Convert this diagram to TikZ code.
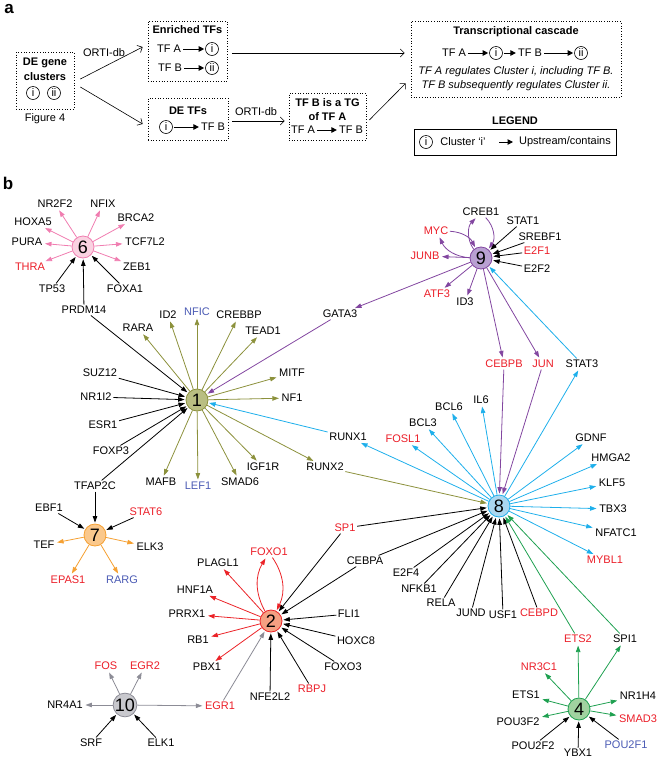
\documentclass[tikz,border=0pt]{standalone}
\usepackage{fontspec}
\setmainfont{Liberation Sans}
\usetikzlibrary{arrows.meta,calc}
\definecolor{tfred}{HTML}{EB1E28}
\definecolor{tfblue}{HTML}{4A5AB4}
\definecolor{cpink}{HTML}{F07DB0}
\definecolor{cpinkf}{HTML}{FAD2E1}
\definecolor{colive}{HTML}{8C913C}
\definecolor{colivef}{HTML}{B9BE82}
\definecolor{corange}{HTML}{F5A032}
\definecolor{corangef}{HTML}{FAC88C}
\definecolor{cpurple}{HTML}{8246A0}
\definecolor{cpurplef}{HTML}{B9A0D2}
\definecolor{ccyan}{HTML}{1EAFEB}
\definecolor{ccyanf}{HTML}{AAD7F0}
\definecolor{cred}{HTML}{EB2328}
\definecolor{credf}{HTML}{F5A082}
\definecolor{cgray}{HTML}{8C8C96}
\definecolor{cgrayf}{HTML}{C8C8CD}
\definecolor{cgreen}{HTML}{1EA050}
\definecolor{cgreenf}{HTML}{A0D2A0}
\tikzset{
  txt/.style={font=\fontsize{11}{13}\selectfont, inner sep=1pt},
  btxt/.style={font=\fontsize{11}{13}\selectfont\bfseries, inner sep=1pt},
  itxt/.style={font=\fontsize{11}{13}\selectfont\itshape, inner sep=1pt},
  abox/.style={draw, dotted, line width=0.7pt},
  rn/.style={circle, draw, line width=0.6pt, minimum size=13pt, inner sep=0pt, font=\fontsize{11}{13}\selectfont},
  flow/.style={-{Straight Barb[length=4pt,width=8pt]}, line width=0.6pt},
  tip/.style={-{Triangle[length=5.5pt,width=5.5pt]}, line width=1pt, shorten >=1pt, shorten <=1pt},
  gene/.style={font=\fontsize{11}{13}\selectfont, inner sep=1.5pt},
  rg/.style={gene, text=tfred},
  bg/.style={gene, text=tfblue},
  clus/.style={circle, draw=#1, fill=#1f, line width=0.8pt, minimum size=22pt, inner sep=0pt, font=\fontsize{18}{20}\selectfont},
  reg/.style={draw=#1, line width=0.8pt, -{Triangle[length=6.5pt,width=4.5pt]}, shorten >=1pt}
}

\begin{document}
\begin{tikzpicture}[x=1pt,y=-1pt]
		%%%%% START %%%%%
		\useasboundingbox (0,0) rectangle (660,761);
		
		% panel a
		\node[font=\fontsize{17}{19}\selectfont\bfseries] at (9,9) {a};
		
		\node[abox, minimum width=58pt, minimum height=57pt] (deg) at (45,80.5) {};
		\node[btxt] at (45,63) {DE gene};
		\node[btxt] at (45,77) {clusters};
		\node[rn] (dgi) at (33,93) {i};
		\node[rn] (dgii) at (54,93) {ii};
		\node[txt] at (45,119) {Figure 4};
		
		\node[abox, minimum width=79pt, minimum height=60pt] (enr) at (187.5,51) {};
		\node[btxt] at (187.5,30) {Enriched TFs};
		\node[txt] (enA) at (169,49) {TF A};
		\node[rn] (enI) at (212,49) {i};
		\node[txt] (enB) at (170,68) {TF B};
		\node[rn] (enII) at (212,68) {ii};
		\draw[tip] (enA) -- (enI);
		\draw[tip] (enB) -- (enII);
		
		\node[abox, minimum width=80pt, minimum height=42pt] (det) at (188,119) {};
		\node[btxt] at (188,111) {DE TFs};
		\node[rn] (deI) at (166,127) {i};
		\node[txt] (deB) at (213,127) {TF B};
		\draw[tip] (deI) -- (deB);
		
		\node[abox, minimum width=77pt, minimum height=47pt] (tg) at (327.5,116.5) {};
		\node[btxt] at (327.5,103) {TF B is a TG};
		\node[btxt] at (327.5,117) {of TF A};
		\node[txt] (tgA) at (303,130) {TF A};
		\node[txt] (tgB) at (351,130) {TF B};
		\draw[tip] (tgA) -- (tgB);
		
		\node[abox, minimum width=210pt, minimum height=76pt] (cas) at (516,59) {};
		\node[btxt] at (516,32) {Transcriptional cascade};
		\node[txt] (caA) at (454,53) {TF A};
		\node[rn] (caI) at (496,53) {i};
		\node[txt] (caB) at (530,53) {TF B};
		\node[rn] (caII) at (581,53) {ii};
		\draw[tip] (caA) -- (caI);
		\draw[tip] (caI) -- (caB);
		\draw[tip] (caB) -- (caII);
		\node[itxt] at (516,72) {TF A regulates Cluster i, including TF B.};
		\node[itxt] at (516,86) {TF B subsequently regulates Cluster ii.};
		
		\node[txt] (orti1) at (104,53) {ORTI-db};
		\node[txt] (orti2) at (256,112) {ORTI-db};
		\draw[flow] ([shift={(6,-1.5)}]deg.east) -- ([shift={(-5,-4)}]enr.west);
		\draw[flow] ([shift={(6,6.5)}]deg.east) -- ([shift={(-5,5)}]det.west);
		\draw[flow] ([shift={(4,2)}]det.east) -- ([shift={(-4,4.5)}]tg.west);
		\draw[flow] ([shift={(4.5,2)}]enr.east) -- ([shift={(-6,-6)}]cas.west);
		\draw[flow] ([shift={(3,3.5)}]tg.east) -- ([shift={(-5,-14)}]cas.south west);
		
		\node[btxt] at (515,121) {LEGEND};
		\node[draw, line width=0.7pt, minimum width=202pt, minimum height=26pt] (leg) at (515,142) {};
		\node[rn] (lgI) at (426,142) {i};
		\node[txt] at (463,142) {Cluster ‘i’};
		\coordinate (lgS) at (498,142);
		\coordinate (lgT) at (514,142);
		\draw[tip] (lgS) -- (lgT);
		\node[txt] at (565,142) {Upstream/contains};
		
		% panel b
		\node[font=\fontsize{17}{19}\selectfont\bfseries] at (8,183) {b};
		
		% cluster 6
		\node[clus=cpink] (c6) at (83,247) {6};
		\node[gene] (NR2F2) at (55,204) {NR2F2};
		\node[gene] (NFIX) at (103,204) {NFIX};
		\node[gene] (BRCA2) at (136,218) {BRCA2};
		\node[gene] (HOXA5) at (33,222) {HOXA5};
		\node[gene] (TCF7L2) at (145,242) {TCF7L2};
		\node[gene] (PURA) at (27,242) {PURA};
		\node[gene] (ZEB1) at (137,267) {ZEB1};
		\node[rg] (THRA) at (30,267) {THRA};
		\node[gene] (TP53) at (52,289) {TP53};
		\node[gene] (FOXA1) at (125,289) {FOXA1};
		\node[gene] (PRDM14) at (84,310) {PRDM14};
		\draw[reg=cpink] (c6) -- (NR2F2);
		\draw[reg=cpink] (c6) -- (NFIX);
		\draw[reg=cpink] (c6) -- (BRCA2);
		\draw[reg=cpink] (c6) -- (HOXA5);
		\draw[reg=cpink] (c6) -- (TCF7L2);
		\draw[reg=cpink] (c6) -- (PURA);
		\draw[reg=cpink] (c6) -- (ZEB1);
		\draw[reg=cpink] (c6) -- (THRA);
		\draw[reg=black] (TP53) -- (c6);
		\draw[reg=black] (FOXA1) -- (c6);
		\draw[reg=black] (PRDM14) -- (c6);
		
		% cluster 1
		\node[clus=colive] (c1) at (197,400) {1};
		\node[gene] (RARA) at (138,328) {RARA};
		\node[gene] (ID2) at (168,315) {ID2};
		\node[bg] (NFIC) at (197,312) {NFIC};
		\node[gene] (CREBBP) at (239,315) {CREBBP};
		\node[gene] (TEAD1) at (263,331) {TEAD1};
		\node[gene] (MITF) at (292,373) {MITF};
		\node[gene] (NF1) at (292,398) {NF1};
		\node[gene] (RUNX2) at (325,467) {RUNX2};
		\node[gene] (IGF1R) at (263,467) {IGF1R};
		\node[gene] (SMAD6) at (240,482) {SMAD6};
		\node[bg] (LEF1) at (198,486) {LEF1};
		\node[gene] (MAFB) at (161,482) {MAFB};
		\node[gene] (SUZ12) at (100,373) {SUZ12};
		\node[gene] (NR1I2) at (96,397) {NR1I2};
		\node[gene] (ESR1) at (103,425) {ESR1};
		\node[gene] (FOXP3) at (111,451) {FOXP3};
		\node[gene] (TFAP2C) at (95,486) {TFAP2C};
		\draw[reg=colive] (c1) -- (RARA);
		\draw[reg=colive] (c1) -- (ID2);
		\draw[reg=colive] (c1) -- (NFIC);
		\draw[reg=colive] (c1) -- (CREBBP);
		\draw[reg=colive] (c1) -- (TEAD1);
		\draw[reg=colive] (c1) -- (MITF);
		\draw[reg=colive] (c1) -- (NF1);
		\draw[reg=colive] (c1) -- (RUNX2);
		\draw[reg=colive] (c1) -- (IGF1R);
		\draw[reg=colive] (c1) -- (SMAD6);
		\draw[reg=colive] (c1) -- (LEF1);
		\draw[reg=colive] (c1) -- (MAFB);
		\draw[reg=black] (PRDM14) -- (c1);
		\draw[reg=black] (SUZ12) -- (c1);
		\draw[reg=black] (NR1I2) -- (c1);
		\draw[reg=black] (ESR1) -- (c1);
		\draw[reg=black] (FOXP3) -- (c1);
		\draw[reg=black] (TFAP2C) -- (c1);
		
		% cluster 7
		\node[clus=corange] (c7) at (95,535) {7};
		\node[gene] (EBF1) at (49,508) {EBF1};
		\node[rg] (STAT6) at (146,512) {STAT6};
		\node[gene] (TEF) at (44,545) {TEF};
		\node[gene] (ELK3) at (150,547) {ELK3};
		\node[rg] (EPAS1) at (68,580) {EPAS1};
		\node[bg] (RARG) at (122,580) {RARG};
		\draw[reg=black] (TFAP2C) -- (c7);
		\draw[reg=black] (EBF1) -- (c7);
		\draw[reg=black] (STAT6) -- (c7);
		\draw[reg=corange] (c7) -- (TEF);
		\draw[reg=corange] (c7) -- (ELK3);
		\draw[reg=corange] (c7) -- (EPAS1);
		\draw[reg=corange] (c7) -- (RARG);
		
		% cluster 9
		\node[clus=cpurple] (c9) at (481,258) {9};
		\node[gene] (CREB1) at (481,212) {CREB1};
		\node[gene] (STAT1) at (523,221) {STAT1};
		\node[gene] (SREBF1) at (540,237) {SREBF1};
		\node[rg] (E2F1) at (537,251) {E2F1};
		\node[gene] (E2F2) at (537,269) {E2F2};
		\node[rg] (MYC) at (436,231) {MYC};
		\node[rg] (JUNB) at (425,256) {JUNB};
		\node[rg] (ATF3) at (437,294) {ATF3};
		\node[gene] (ID3) at (465,302) {ID3};
		\node[gene] (GATA3) at (340,314) {GATA3};
		\node[rg] (CEBPB) at (504,364) {CEBPB};
		\node[rg] (JUN) at (543,364) {JUN};
		\node[gene] (STAT3) at (582,364) {STAT3};
		\draw[reg=cpurple] (c9) to[bend left=40] (CREB1);
		\draw[reg=cpurple] (CREB1) to[bend left=40] (c9);
		\draw[reg=cpurple] (c9) to[bend left=30] (MYC);
		\draw[reg=cpurple] (MYC) to[bend left=30] (c9);
		\draw[reg=cpurple] (c9) -- (JUNB);
		\draw[reg=cpurple] (c9) -- (ATF3);
		\draw[reg=cpurple] (c9) -- (ID3);
		\draw[reg=cpurple] (c9) -- (GATA3);
		\draw[reg=cpurple] (c9) -- (CEBPB);
		\draw[reg=cpurple] (c9) -- (JUN);
		\draw[reg=black] (STAT1) -- (c9);
		\draw[reg=black] (SREBF1) -- (c9);
		\draw[reg=black] (E2F1) -- (c9);
		\draw[reg=black] (E2F2) -- (c9);
		\draw[reg=cpurple] (GATA3) -- (c1);
		
		% cluster 8
		\node[clus=ccyan] (c8) at (499,506) {8};
		\node[gene] (RUNX1) at (348,437) {RUNX1};
		\node[rg] (FOSL1) at (403,439) {FOSL1};
		\node[gene] (BCL3) at (423,423) {BCL3};
		\node[gene] (BCL6) at (449,407) {BCL6};
		\node[gene] (IL6) at (481,400) {IL6};
		\node[gene] (GDNF) at (591,438) {GDNF};
		\node[gene] (HMGA2) at (611,458) {HMGA2};
		\node[gene] (KLF5) at (612,483) {KLF5};
		\node[gene] (TBX3) at (613,509) {TBX3};
		\node[gene] (NFATC1) at (616,533) {NFATC1};
		\node[rg] (MYBL1) at (605,560) {MYBL1};
		\node[rg] (SP1) at (345,528) {SP1};
		\node[gene] (CEBPA) at (365,561) {CEBPA};
		\node[gene] (E2F4) at (406,573) {E2F4};
		\node[gene] (NFKB1) at (419,589) {NFKB1};
		\node[gene] (RELA) at (441,603) {RELA};
		\node[gene] (JUND) at (471,613) {JUND};
		\node[gene] (USF1) at (503,615) {USF1};
		\node[rg] (CEBPD) at (539,613) {CEBPD};
		\node[rg] (ETS2) at (578,639) {ETS2};
		\node[gene] (SPI1) at (625,639) {SPI1};
		\draw[reg=ccyan] (c8) -- (RUNX1);
		\draw[reg=ccyan] (c8) -- (FOSL1);
		\draw[reg=ccyan] (c8) -- (BCL3);
		\draw[reg=ccyan] (c8) -- (BCL6);
		\draw[reg=ccyan] (c8) -- (IL6);
		\draw[reg=ccyan] (c8) -- (STAT3);
		\draw[reg=ccyan] (c8) -- (GDNF);
		\draw[reg=ccyan] (c8) -- (HMGA2);
		\draw[reg=ccyan] (c8) -- (KLF5);
		\draw[reg=ccyan] (c8) -- (TBX3);
		\draw[reg=ccyan] (c8) -- (NFATC1);
		\draw[reg=ccyan] (c8) -- (MYBL1);
		\draw[reg=ccyan] (RUNX1) -- (c1);
		\draw[reg=ccyan] (STAT3) -- (c9);
		\draw[reg=cpurple] (CEBPB) -- (c8);
		\draw[reg=cpurple] (JUN) -- (c8);
		\draw[reg=colive] (RUNX2) -- (c8);
		\draw[reg=black] (SP1) -- (c8);
		\draw[reg=black] (CEBPA) -- (c8);
		\draw[reg=black] (E2F4) -- (c8);
		\draw[reg=black] (NFKB1) -- (c8);
		\draw[reg=black] (RELA) -- (c8);
		\draw[reg=black] (JUND) -- (c8);
		\draw[reg=black] (USF1) -- (c8);
		\draw[reg=black] (CEBPD) -- (c8);
		\draw[reg=cgreen] (ETS2) -- (c8);
		\draw[reg=cgreen] (SPI1) -- (c8);
		
		% cluster 2
		\node[clus=cred] (c2) at (271,621) {2};
		\node[rg] (FOXO1) at (269,552) {FOXO1};
		\node[gene] (PLAGL1) at (218,563) {PLAGL1};
		\node[gene] (HNF1A) at (195,590) {HNF1A};
		\node[gene] (PRRX1) at (187,614) {PRRX1};
		\node[gene] (RB1) at (198,640) {RB1};
		\node[gene] (PBX1) at (207,667) {PBX1};
		\node[gene] (FLI1) at (349,614) {FLI1};
		\node[gene] (HOXC8) at (356,641) {HOXC8};
		\node[gene] (FOXO3) at (343,667) {FOXO3};
		\node[rg] (RBPJ) at (312,689) {RBPJ};
		\node[gene] (NFE2L2) at (270,697) {NFE2L2};
		\draw[reg=cred] (c2) to[bend left=30] (FOXO1);
		\draw[reg=cred] (FOXO1) to[bend left=30] (c2);
		\draw[reg=cred] (c2) -- (PLAGL1);
		\draw[reg=cred] (c2) -- (HNF1A);
		\draw[reg=cred] (c2) -- (PRRX1);
		\draw[reg=cred] (c2) -- (RB1);
		\draw[reg=cred] (c2) -- (PBX1);
		\draw[reg=black] (SP1) -- (c2);
		\draw[reg=black] (CEBPA) -- (c2);
		\draw[reg=black] (FLI1) -- (c2);
		\draw[reg=black] (HOXC8) -- (c2);
		\draw[reg=black] (FOXO3) -- (c2);
		\draw[reg=black] (RBPJ) -- (c2);
		\draw[reg=black] (NFE2L2) -- (c2);
		
		% cluster 10
		\node[clus=cgray] (c10) at (125,705) {10};
		\node[rg] (FOS) at (106,666) {FOS};
		\node[rg] (EGR2) at (145,666) {EGR2};
		\node[gene] (NR4A1) at (65,705) {NR4A1};
		\node[rg] (EGR1) at (220,706) {EGR1};
		\node[gene] (SRF) at (91,743) {SRF};
		\node[gene] (ELK1) at (161,743) {ELK1};
		\draw[reg=cgray] (c10) -- (FOS);
		\draw[reg=cgray] (c10) -- (EGR2);
		\draw[reg=cgray] (c10) -- (NR4A1);
		\draw[reg=cgray] (c10) -- (EGR1);
		\draw[reg=cgray] (EGR1) -- (c2);
		\draw[reg=black] (SRF) -- (c10);
		\draw[reg=black] (ELK1) -- (c10);
		
		% cluster 4
		\node[clus=cgreen] (c4) at (579,709) {4};
		\node[rg] (NR3C1) at (539,667) {NR3C1};
		\node[gene] (ETS1) at (526,695) {ETS1};
		\node[gene] (NR1H4) at (638,696) {NR1H4};
		\node[gene] (POU3F2) at (518,722) {POU3F2};
		\node[rg] (SMAD3) at (638,719) {SMAD3};
		\node[gene] (POU2F2) at (533,746) {POU2F2};
		\node[gene] (YBX1) at (578,753) {YBX1};
		\node[bg] (POU2F1) at (626,745) {POU2F1};
		\draw[reg=cgreen] (c4) -- (ETS2);
		\draw[reg=cgreen] (c4) -- (SPI1);
		\draw[reg=cgreen] (c4) -- (NR3C1);
		\draw[reg=cgreen] (c4) -- (ETS1);
		\draw[reg=cgreen] (c4) -- (NR1H4);
		\draw[reg=cgreen] (c4) -- (POU3F2);
		\draw[reg=cgreen] (c4) -- (SMAD3);
		\draw[reg=black] (POU2F2) -- (c4);
		\draw[reg=black] (YBX1) -- (c4);
		\draw[reg=black] (POU2F1) -- (c4);
		
		%%%%% END %%%%%
	\end{tikzpicture}
\end{document}
